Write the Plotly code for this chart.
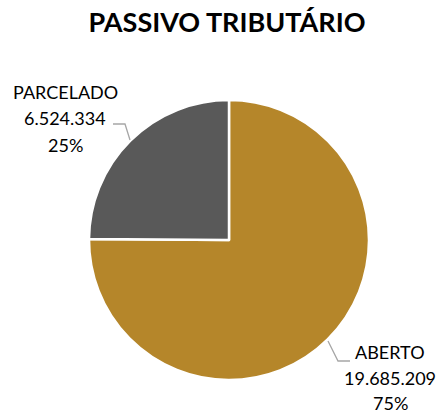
import plotly.graph_objects as go

labels = ["ABERTO", "PARCELADO"]
values = [19685209, 6524334]
colors = ["#B5862A", "#595959"]
title = "PASSIVO TRIBUTÁRIO"

W, H = 444, 414
cx, cy, r = 229, 240, 140

def fmt(v):
    return f"{v:,}".replace(",", ".")

total = sum(values)

fig = go.Figure(go.Pie(
    labels=labels, values=values, sort=False, direction="clockwise", rotation=0,
    marker=dict(colors=colors, line=dict(color="white", width=2.5)),
    textinfo="none", hoverinfo="label+value+percent", showlegend=False,
    domain=dict(x=[(cx - r) / W, (cx + r) / W], y=[(H - cy - r) / H, (H - cy + r) / H]),
))

font = dict(family="Lato, Noto Sans, sans-serif", size=18, color="#000000")
# label block centers (pixels) and line spacing
label_pos = {"ABERTO": ((390, 352), 25.5), "PARCELADO": ((65, 92), 26.5)}
for l, v in zip(labels, values):
    (x, y0), dy = label_pos[l]
    lines = [l, fmt(v), f"{round(v / total * 100)}%"]
    for i, t in enumerate(lines):
        fig.add_annotation(x=x / W, y=1 - (y0 + i * dy) / H, xref="paper", yref="paper", text=t,
                           showarrow=False, font=font, align="center", borderpad=0,
                           xanchor="center", yanchor="middle")

lc = "#A6A6A6"
leaders = [[(113, 124), (125, 124), (130, 140)], [(328, 341), (338, 361), (350, 361)]]
for pts in leaders:
    path = "M " + " L ".join(f"{px / W},{1 - py / H}" for px, py in pts)
    fig.add_shape(type="path", path=path, xref="paper", yref="paper",
                  line=dict(color=lc, width=1.3))

fig.update_layout(
    width=W, height=H, margin=dict(l=0, r=0, t=0, b=0),
    paper_bgcolor="white", plot_bgcolor="white",
    title=dict(text=f"<b>{title}</b>", x=227 / W, xanchor="center", y=1 - 23 / H, yanchor="middle",
               font=dict(family="Lato, Noto Sans, sans-serif", size=27, color="#000000")),
)

fig.write_html("out.html", config={"displayModeBar": False},
               post_script="document.body.style.margin='0';")
